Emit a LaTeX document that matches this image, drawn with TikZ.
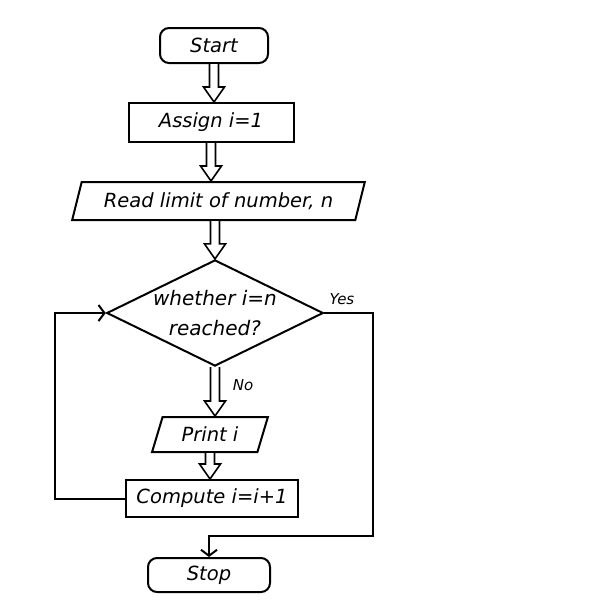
\documentclass[tikz,border=0pt]{standalone}
\usepackage{fontspec}
\setmainfont{DejaVu Sans}
\usetikzlibrary{shapes.geometric,arrows.meta,calc}
\begin{document}
\begin{tikzpicture}[x=1pt,y=-1pt,
  every node/.style={font=\itshape\fontsize{19.5}{22}\selectfont, line width=2pt, draw, inner sep=0pt},
  terminal/.style={rectangle, rounded corners=9pt},
  procbox/.style={rectangle},
  iobox/.style={trapezium, trapezium stretches=true},
  decision/.style={diamond, aspect=2.04},
  lbl/.style={draw=none, font=\itshape\fontsize{15}{17}\selectfont},
  line/.style={line width=2pt},
  barb/.style={-{Straight Barb[length=6pt,width=16pt,line width=2pt]}},
  hollow/.style={line width=1.6pt, fill=white, to path={
    let \p1=(\tikztostart), \p2=(\tikztotarget) in
    (\x2-4.5pt,\y1) -- (\x2-4.5pt,\y2+15pt) -- (\x2-10.5pt,\y2+15pt) -- (\x2,\y2)
    -- (\x2+10.5pt,\y2+15pt) -- (\x2+4.5pt,\y2+15pt) -- (\x2+4.5pt,\y1)}}
]
\useasboundingbox (0,0) rectangle (607,613);
\fill[white] (0,0) rectangle (607,613);

\node[terminal, minimum width=108pt, minimum height=35pt] (start) at (214,45.5) {Start};
\node[procbox, minimum width=165pt, minimum height=39pt] (assign) at (211,122.5) {Assign i=1};
\node[iobox, trapezium left angle=65, trapezium right angle=115, minimum width=293pt, minimum height=38pt] (read) at (218.5,201) {Read limit of number, n};
\node[decision, minimum width=212pt, minimum height=104pt, align=center, font=\itshape\fontsize{20}{30}\selectfont] (dec) at (215,313) {whether i=n\\reached?};
\node[iobox, trapezium left angle=67, trapezium right angle=113, minimum width=116pt, minimum height=35pt] (print) at (210,434.5) {Print i};
\node[procbox, minimum width=172pt, minimum height=37pt] (compute) at (212,498.5) {Compute i=i+1};
\node[terminal, minimum width=122pt, minimum height=34pt] (stop) at (209,575) {Stop};

\draw[hollow] (start.south) to (start.south |- assign.north);
\draw[hollow] (assign.south) to (assign.south |- read.north);
\draw[hollow] (read.south -| dec.north) to (dec.north);
\draw[hollow] (dec.south) to (dec.south |- print.north);
\draw[hollow] (print.south) to (print.south |- compute.north);

\node[lbl] (no) at (243,385) {No};
\node[lbl] (yes) at (342,299) {Yes};

\coordinate (lc1) at (55,498.5);
\coordinate (lc2) at (55,313);
\draw[line, barb] (compute.west) -- (lc1) -- (lc2) -- (dec.west);

\coordinate (rc1) at (373,313);
\coordinate (rc2) at (373,536);
\coordinate (rc3) at (209,536);
\draw[line, barb] (dec.east) -- (rc1) -- (rc2) -- (rc3) -- (stop.north);
\end{tikzpicture}
\end{document}
